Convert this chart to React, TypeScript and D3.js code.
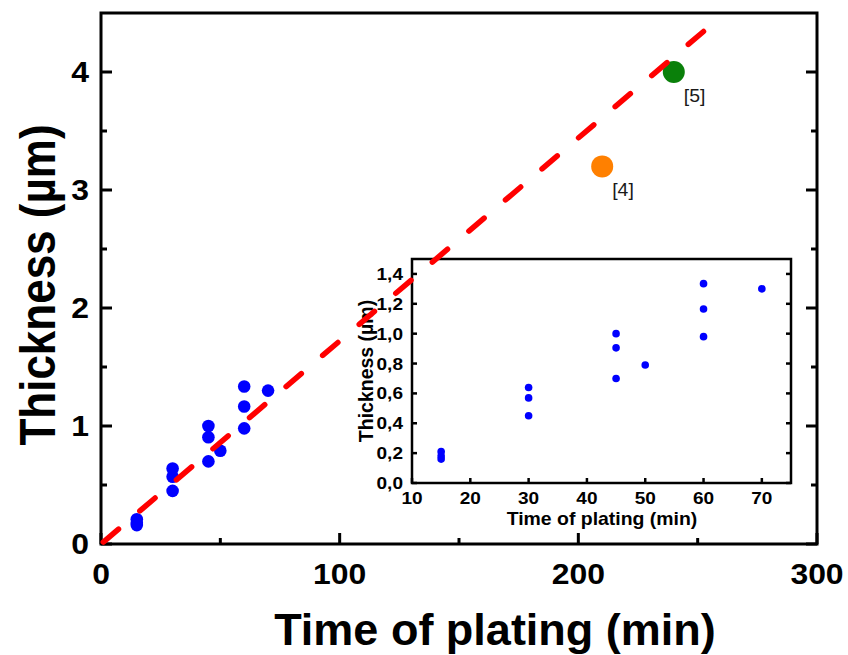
import React from "react";
import * as d3 from "d3";

// Measured thickness vs. plating time (min, µm)
const platingTimes = [15, 15, 15, 30, 30, 30, 45, 45, 45, 50, 60, 60, 60, 70];
const thicknessValues = [0.21, 0.18, 0.16, 0.64, 0.57, 0.45, 1.0, 0.905, 0.7, 0.79, 1.335, 1.165, 0.98, 1.3];

// Literature reference points
const refTimes = [210, 240];
const refThickness = [3.2, 4.0];
const refLabels = ["[4]", "[5]"];
const refColors = ["#ff8000", "#0a800a"];

// Linear fit end points
const fitTimes = [0, 254];
const fitThickness = [0, 4.37];

// Tick values
const mainXTicks = [0, 100, 200, 300];
const mainXMinor = [50, 150, 250];
const mainYTicks = [0, 1, 2, 3, 4];
const mainYMinor = [0.5, 1.5, 2.5, 3.5];
const insetXTicks = [10, 20, 30, 40, 50, 60, 70];
const insetYTicks = [0, 0.2, 0.4, 0.6, 0.8, 1.0, 1.2, 1.4];

const FONT = "'Liberation Sans', Arial, Helvetica, sans-serif";

type LabelProps = {
  x: number;
  y: number;
  size: number;
  sx?: number;
  rot?: boolean;
  anchor?: "start" | "middle" | "end";
  weight?: string | number;
  fill?: string;
  children: React.ReactNode;
};

function Label({ x, y, size, sx = 1, rot = false, anchor = "middle", weight = "bold", fill = "#000", children }: LabelProps) {
  return (
    <text
      transform={`translate(${x},${y}) scale(${sx},1)${rot ? " rotate(-90)" : ""}`}
      textAnchor={anchor}
      fontSize={size}
      fontWeight={weight}
      fontFamily={FONT}
      fill={fill}
    >
      {children}
    </text>
  );
}

export default function App() {
  // main axes
  const x = d3.scaleLinear().domain([0, 300]).range([101, 817]);
  const y = d3.scaleLinear().domain([0, 4.5]).range([544, 13]);
  // inset axes
  const ix = d3.scaleLinear().domain([10, 75]).range([412, 791]);
  const iy = d3.scaleLinear().domain([0, 1.5]).range([483, 259]);

  const fitPath = d3
    .line<number>()
    .x((_, i) => x(fitTimes[i]))
    .y((_, i) => y(fitThickness[i]))(fitTimes) as string;

  const fmtComma = (v: number) => v.toFixed(1).replace(".", ",");

  const mainTickSize = 29;
  const insetTickSize = 17;

  return (
    <div style={{ position: "absolute", left: 0, top: 0 }}>
      <svg width={848} height={655} viewBox="0 0 848 655" style={{ display: "block", background: "#fff" }}>
        <rect x={0} y={0} width={848} height={655} fill="#fff" />

        {/* main frame */}
        <rect
          x={x(0)}
          y={y(4.5)}
          width={x(300) - x(0)}
          height={y(0) - y(4.5)}
          fill="none"
          stroke="#000"
          strokeWidth={3}
        />

        {/* main x ticks (bottom, inward) */}
        {mainXTicks.map((t) => (
          <line key={`mx${t}`} x1={x(t)} x2={x(t)} y1={y(0)} y2={y(0) - 11} stroke="#000" strokeWidth={3} />
        ))}
        {mainXMinor.map((t) => (
          <line key={`mxm${t}`} x1={x(t)} x2={x(t)} y1={y(0)} y2={y(0) - 6} stroke="#000" strokeWidth={3} />
        ))}
        {/* main y ticks (left and right, inward) */}
        {mainYTicks.map((t) => (
          <g key={`my${t}`}>
            <line x1={x(0)} x2={x(0) + 11} y1={y(t)} y2={y(t)} stroke="#000" strokeWidth={3} />
            <line x1={x(300)} x2={x(300) - 11} y1={y(t)} y2={y(t)} stroke="#000" strokeWidth={3} />
          </g>
        ))}
        {mainYMinor.map((t) => (
          <g key={`mym${t}`}>
            <line x1={x(0)} x2={x(0) + 6} y1={y(t)} y2={y(t)} stroke="#000" strokeWidth={3} />
            <line x1={x(300)} x2={x(300) - 6} y1={y(t)} y2={y(t)} stroke="#000" strokeWidth={3} />
          </g>
        ))}

        {/* main tick labels */}
        {mainXTicks.map((t) => (
          <Label key={`mxl${t}`} x={x(t)} y={584} size={mainTickSize} sx={1.1}>
            {String(t)}
          </Label>
        ))}
        {mainYTicks.map((t) => (
          <Label key={`myl${t}`} x={89} y={y(t) + mainTickSize * 0.358} size={mainTickSize} sx={1.1} anchor="end">
            {String(t)}
          </Label>
        ))}

        {/* main axis titles */}
        <Label x={495} y={645} size={45}>
          Time of plating (min)
        </Label>
        <Label x={55} y={285} size={44} sx={1.15} rot>
          Thickness (µm)
        </Label>

        {/* measured points */}
        {platingTimes.map((t, i) => (
          <circle key={`p${i}`} cx={x(t)} cy={y(thicknessValues[i])} r={6.3} fill="#0000ff" />
        ))}

        {/* literature points */}
        {refTimes.map((t, i) => (
          <g key={`r${i}`}>
            <circle cx={x(t)} cy={y(refThickness[i])} r={11} fill={refColors[i]} />
            <Label x={x(t) + 10} y={y(refThickness[i]) + 30} size={18} sx={1.08} weight="normal" anchor="start" fill="#1a1a1a">
              {refLabels[i]}
            </Label>
          </g>
        ))}

        {/* inset */}
        <rect
          x={ix(10)}
          y={iy(1.5)}
          width={ix(75) - ix(10)}
          height={iy(0) - iy(1.5)}
          fill="#fff"
          stroke="#000"
          strokeWidth={2.5}
        />
        {insetXTicks.map((t) => (
          <line key={`ix${t}`} x1={ix(t)} x2={ix(t)} y1={iy(0)} y2={iy(0) - 5} stroke="#000" strokeWidth={2.5} />
        ))}
        {insetYTicks.map((t) => (
          <g key={`iy${t}`}>
            <line x1={ix(10)} x2={ix(10) + 5} y1={iy(t)} y2={iy(t)} stroke="#000" strokeWidth={2.5} />
            <line x1={ix(75)} x2={ix(75) - 5} y1={iy(t)} y2={iy(t)} stroke="#000" strokeWidth={2.5} />
          </g>
        ))}
        {insetXTicks.map((t) => (
          <Label key={`ixl${t}`} x={ix(t)} y={504} size={insetTickSize} sx={1.12}>
            {String(t)}
          </Label>
        ))}
        {insetYTicks.map((t) => (
          <Label key={`iyl${t}`} x={403} y={iy(t) + insetTickSize * 0.358} size={insetTickSize} sx={1.12} anchor="end">
            {fmtComma(t)}
          </Label>
        ))}
        <Label x={602} y={525} size={18} sx={1.08}>
          Time of plating (min)
        </Label>
        <Label x={373} y={371} size={19.5} rot>
          Thickness (µm)
        </Label>
        {platingTimes.map((t, i) => (
          <circle key={`ip${i}`} cx={ix(t)} cy={iy(thicknessValues[i])} r={3.8} fill="#0000ff" />
        ))}

        {/* linear fit */}
        <path
          d={fitPath}
          fill="none"
          stroke="#ff0000"
          strokeWidth={5.5}
          strokeLinecap="round"
          strokeDasharray="20 28"
          strokeDashoffset={-3}
        />
      </svg>
    </div>
  );
}
